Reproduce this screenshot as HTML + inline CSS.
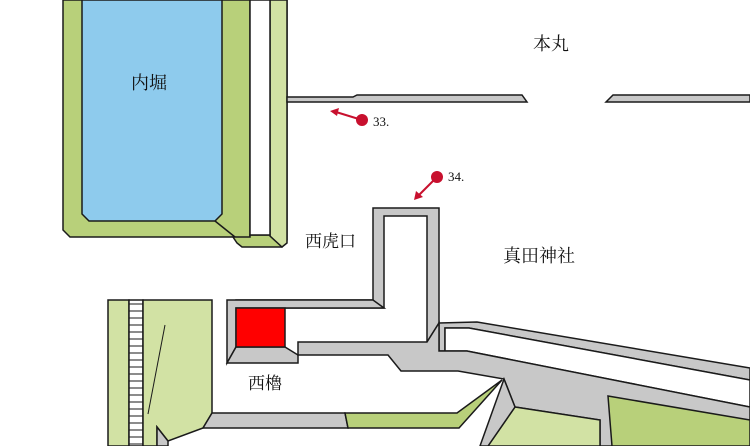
<!DOCTYPE html>
<html><head><meta charset="utf-8"><style>
html,body{margin:0;padding:0;background:#fff;}
svg{display:block;}
text{font-family:"Liberation Serif","Noto Serif CJK SC",serif;fill:#111;}
</style></head><body>
<svg width="750" height="446" viewBox="0 0 750 446" xmlns="http://www.w3.org/2000/svg">
<g stroke="#1a1a1a" stroke-width="1.5" stroke-linejoin="miter">
<polygon points="63,0 250,0 250,240 233,237 70,237 63,230" fill="#b8d07a"/>
<polygon points="82,0 222,0 222,214 215,221 89,221 82,214" fill="#8ecbed"/>
<line x1="215" y1="221" x2="235" y2="237"/>
<polygon points="233,237 250,237 250,235 270,235 270,0 287,0 287,240 282,247 242,247 237,243" fill="#b8d07a"/>
<polygon points="270,0 287,0 287,243 282,247 270,236" fill="#d2e2a4"/>
<polygon points="250,0 270,0 270,235 250,235" fill="#fff"/>
<polygon points="287,97 353,97 357,95 522,95 527,102 287,102" fill="#c8c8c8"/>
<polygon points="613,95 750,95 750,102 606,102" fill="#c8c8c8"/>
<polygon points="373,208 439,208 439,323 427,342 427,216 384,216 384,308 236,308 236,300 373,300" fill="#c8c8c8"/>
<polygon points="227,300 373,300 384,308 236,308 236,347 227,363" fill="#c8c8c8"/>
<polygon points="236,347 285,347 298,355 298,363 227,363" fill="#c8c8c8"/>
<polygon points="236,308 285,308 285,347 236,347" fill="#ff0000"/>
<polygon points="439,323 477,322 750,368 750,380 469,328 445,328 445,351 439,351" fill="#c8c8c8"/>
<polygon points="445,328 469,328 750,380 750,407 467,351 445,351" fill="#fff"/>
<polygon points="445,351 467,351 750,407 750,446 600,446 600,420 515,407 504,379 458,371 401,371 388,355 298,355 298,342 427,342 439,323 439,351" fill="#c8c8c8"/>
<polygon points="515,407 600,420 600,446 488,446" fill="#d2e2a4"/>
<polygon points="608,396 750,420 750,446 612,446" fill="#b8d07a"/>
<polygon points="504,379 515,407 488,446 480,446" fill="#c8c8c8"/>
<polygon points="108,300 129,300 129,446 108,446" fill="#d2e2a4"/>
<rect x="129" y="300" width="14" height="146" fill="#fff"/>
<polygon points="143,300 212,300 212,413 203,428 168,441 157,427 157,446 143,446" fill="#d2e2a4"/>
<line x1="165" y1="325" x2="148" y2="414" stroke-width="1"/>
<polygon points="157,427 168,441 168,446 157,446" fill="#c8c8c8"/>
<polygon points="212,413 345,413 348,428 203,428" fill="#c8c8c8"/>
<polygon points="345,413 457,413 502,380 459,428 348,428" fill="#b8d07a"/>
</g>
<g stroke="#1a1a1a" stroke-width="1">
<path d="M129 304H143M129 311H143M129 318H143M129 325H143M129 332H143M129 339H143M129 346H143M129 353H143M129 360H143M129 367H143M129 374H143M129 381H143M129 388H143M129 395H143M129 402H143M129 409H143M129 416H143M129 423H143M129 430H143M129 437H143M129 444H143"/>
</g>
<g stroke="#c8102e" stroke-width="2" fill="#c8102e">
<line x1="362" y1="120" x2="336" y2="112"/>
<polygon points="330,111 339,108 337,116" stroke="none"/>
<circle cx="362" cy="120" r="6" stroke="none"/>
<line x1="437" y1="177" x2="419" y2="195"/>
<polygon points="414,200 416,191 423,197" stroke="none"/>
<circle cx="437" cy="177" r="6" stroke="none"/>
</g>
<text x="373" y="126" font-size="13">33.</text>
<text x="448" y="181" font-size="13">34.</text>
<text x="533" y="50" font-size="18">本丸</text>
<text x="131" y="89" font-size="18">内堀</text>
<text x="305" y="247" font-size="17">西虎口</text>
<text x="503" y="262" font-size="18">真田神社</text>
<text x="248" y="389" font-size="17">西櫓</text>
</svg>
</body></html>
